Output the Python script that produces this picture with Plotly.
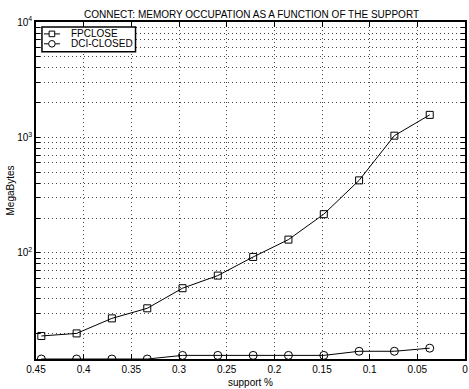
import plotly.graph_objects as go

support = [0.4444, 0.4074, 0.3704, 0.3333, 0.2963, 0.2593, 0.2222, 0.1852, 0.1481, 0.1111, 0.0741, 0.0370]
fpclose = [19.0, 20.0, 27.0, 33.0, 49.3, 63.4, 92.0, 130.0, 216.0, 424.0, 1035.0, 1567.0]
dci_closed = [12.0, 12.0, 12.0, 12.0, 12.9, 12.9, 12.9, 12.9, 12.9, 14.0, 14.0, 14.9]

series_names = ["FPCLOSE", "DCI-CLOSED"]
x_ticks = [0.45, 0.4, 0.35, 0.3, 0.25, 0.2, 0.15, 0.1, 0.05, 0]
x_ticklabels = ["0.45", "0.4", "0.35", "0.3", "0.25", "0.2", "0.15", "0.1", "0.05", "0"]
y_major = [100, 1000, 10000]
y_major_labels = ["10<sup>2</sup>", "10<sup>3</sup>", "10<sup>4</sup>"]

title = "CONNECT: MEMORY OCCUPATION AS A FUNCTION OF THE SUPPORT"
xlabel = "support %"
ylabel = "MegaBytes"

# log-axis tick positions (decades plus minor 2..9 multiples)
y_tickvals = []
y_ticktext = []
for dec in [10, 100, 1000]:
    for m in range(1, 10):
        v = dec * m
        if v < 12:
            continue
        y_tickvals.append(v)
        y_ticktext.append("")
for v, t in zip(y_major, y_major_labels):
    if v in y_tickvals:
        y_ticktext[y_tickvals.index(v)] = t
    else:
        y_tickvals.append(v)
        y_ticktext.append(t)

fig = go.Figure()
fig.add_trace(go.Scatter(
    x=support, y=fpclose, name=series_names[0], mode="lines+markers",
    line=dict(color="black", width=1),
    marker=dict(symbol="square-open", size=7, color="black", line=dict(width=1)),
    showlegend=False,
))
fig.add_trace(go.Scatter(
    x=support, y=dci_closed, name=series_names[1], mode="lines+markers",
    line=dict(color="black", width=1),
    marker=dict(symbol="circle-open", size=8, color="black", line=dict(width=1)),
    showlegend=False,
))

font_family = "Liberation Sans, Arial, Helvetica, sans-serif"

# compact MATLAB-style legend built from layout shapes/annotations
shapes = []
annotations = []
shapes.append(dict(type="rect", xref="paper", yref="paper",
                   x0=0.0139, x1=0.232, y0=0.9118, y1=0.9853,
                   line=dict(color="black", width=1.5), fillcolor="white", layer="above"))
legend_rows = [0.9647, 0.9353]
marker_kinds = ["rect", "circle"]
marker_half = [2.8, 3.3]
for name, yr, kind, h in zip(series_names, legend_rows, marker_kinds, marker_half):
    shapes.append(dict(type="line", xref="paper", yref="paper",
                       x0=0.0186, x1=0.0557, y0=yr, y1=yr,
                       line=dict(color="black", width=1), layer="above"))
    shapes.append(dict(type=kind, xref="paper", yref="paper",
                       xsizemode="pixel", ysizemode="pixel",
                       xanchor=0.0371, yanchor=yr,
                       x0=-h, x1=h, y0=-h, y1=h,
                       line=dict(color="black", width=1), fillcolor="white", layer="above"))
    annotations.append(dict(text=name, xref="paper", yref="paper",
                            x=0.0766, y=yr, xanchor="left", yanchor="middle",
                            showarrow=False, font=dict(size=10, family=font_family, color="black")))

fig.update_layout(
    width=469, height=389,
    margin=dict(l=36, r=2, t=22, b=27),
    paper_bgcolor="white", plot_bgcolor="white",
    font=dict(family=font_family, size=10, color="black"),
    title=dict(text=title, x=0.5363, xanchor="center", y=0.962, yanchor="middle",
               font=dict(size=10, family=font_family, color="black")),
    showlegend=False,
    shapes=shapes,
    annotations=annotations,
    xaxis=dict(
        range=[0.45, 0], tickvals=x_ticks, ticktext=x_ticklabels,
        showline=True, linecolor="black", linewidth=1.5, mirror="ticks",
        ticks="inside", ticklen=5, tickcolor="black",
        showgrid=True, gridcolor="#444", griddash="1px,3px", gridwidth=1,
        zeroline=False,
        title=dict(text=xlabel, standoff=5, font=dict(size=10)),
        tickfont=dict(size=10),
    ),
    yaxis=dict(
        type="log", range=[1.0792, 4.0],
        tickvals=y_tickvals, ticktext=y_ticktext,
        showline=True, linecolor="black", linewidth=1.5, mirror="ticks",
        ticks="inside", ticklen=4, tickcolor="black",
        showgrid=True, gridcolor="#444", griddash="1px,3px", gridwidth=1,
        zeroline=False,
        title=dict(text=ylabel, standoff=1, font=dict(size=10)),
        tickfont=dict(size=10),
    ),
)

fig.write_html("out.html", config={"displayModeBar": False},
               post_script="document.body.style.margin='0';")
